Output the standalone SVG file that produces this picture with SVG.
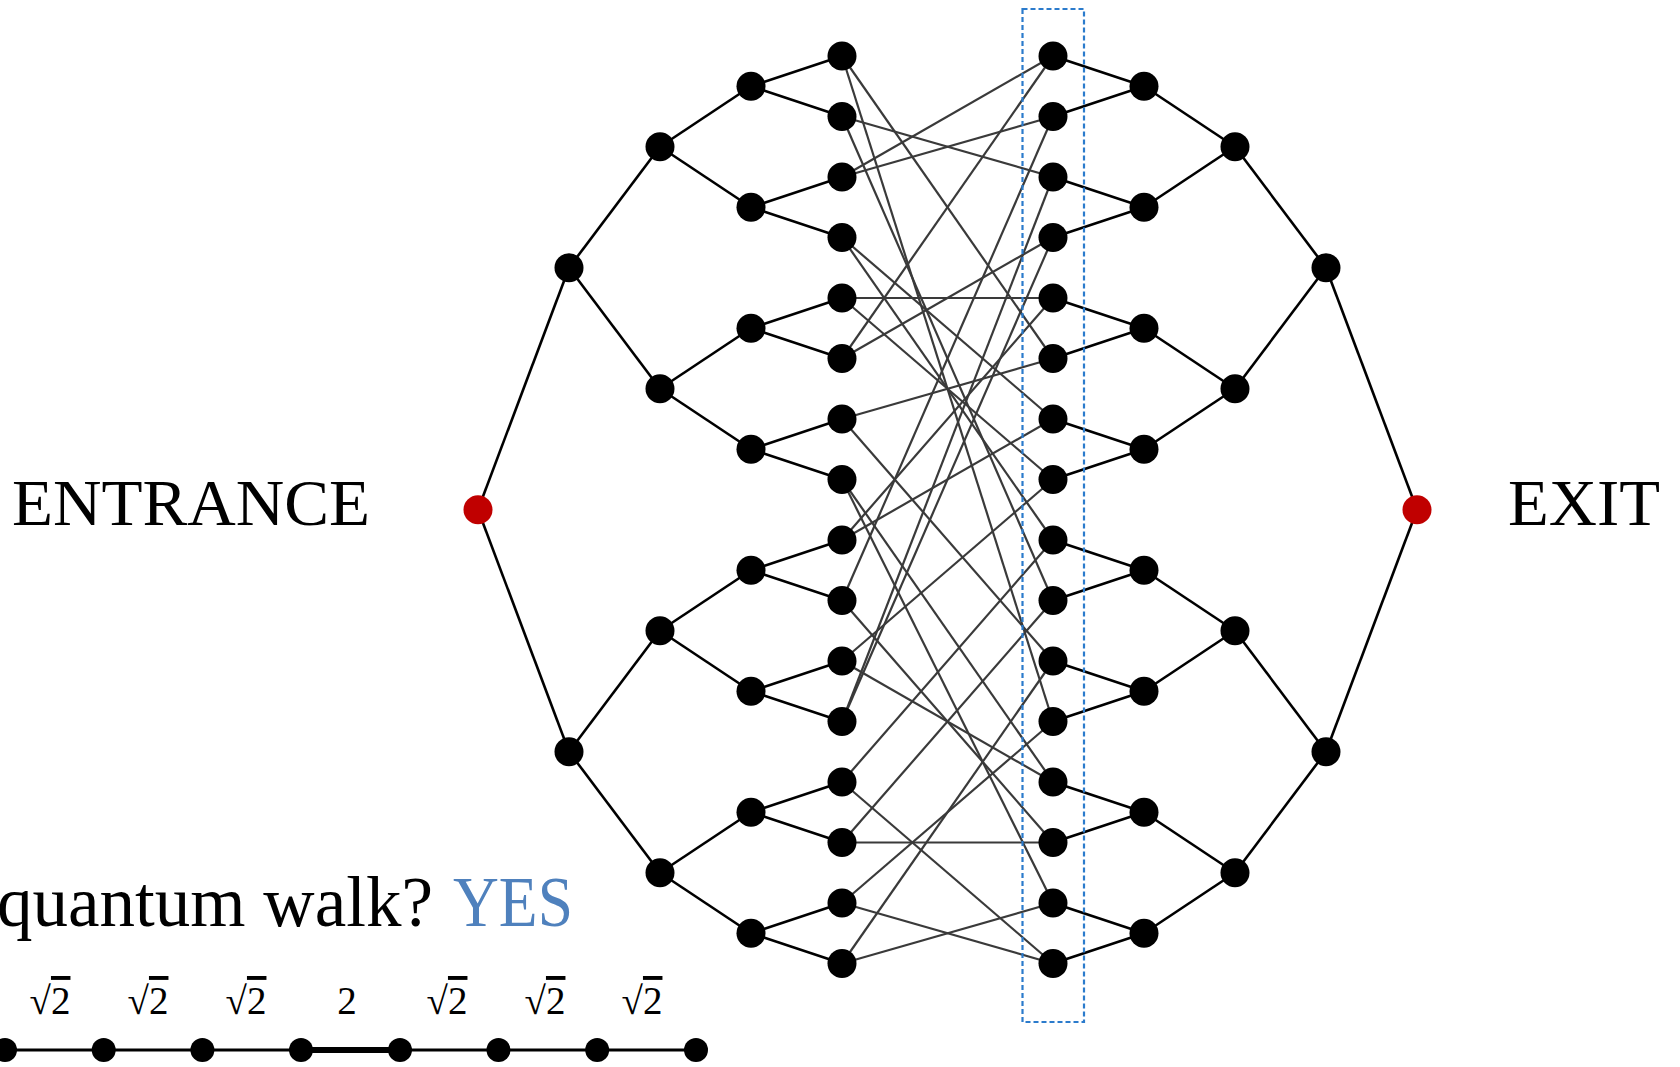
<svg xmlns="http://www.w3.org/2000/svg" width="1680" height="1067" viewBox="0 0 1680 1067">
<style>
.n{fill:#000}
.red{fill:#c00000}
.t{stroke:#000;stroke-width:2.6;fill:none}
.x{stroke:#3a3a3a;stroke-width:2.2;fill:none}
.ch{stroke:#000;stroke-width:3.2;fill:none}
.lbl{font-family:"Liberation Serif","DejaVu Serif",serif;fill:#000}
</style>
<rect width="1680" height="1067" fill="#fff"/>
<g id="connectors">
<g id="tree-left" class="t">
<line x1="478" y1="509.75" x2="569" y2="267.75"/><line x1="478" y1="509.75" x2="569" y2="751.75"/>
<line x1="569" y1="267.75" x2="660" y2="146.75"/><line x1="569" y1="267.75" x2="660" y2="388.75"/>
<line x1="569" y1="751.75" x2="660" y2="630.75"/><line x1="569" y1="751.75" x2="660" y2="872.75"/>
<line x1="660" y1="146.75" x2="751" y2="86.25"/><line x1="660" y1="146.75" x2="751" y2="207.25"/>
<line x1="660" y1="388.75" x2="751" y2="328.25"/><line x1="660" y1="388.75" x2="751" y2="449.25"/>
<line x1="660" y1="630.75" x2="751" y2="570.25"/><line x1="660" y1="630.75" x2="751" y2="691.25"/>
<line x1="660" y1="872.75" x2="751" y2="812.25"/><line x1="660" y1="872.75" x2="751" y2="933.25"/>
<line x1="751" y1="86.25" x2="842" y2="56"/><line x1="751" y1="86.25" x2="842" y2="116.5"/>
<line x1="751" y1="207.25" x2="842" y2="177"/><line x1="751" y1="207.25" x2="842" y2="237.5"/>
<line x1="751" y1="328.25" x2="842" y2="298"/><line x1="751" y1="328.25" x2="842" y2="358.5"/>
<line x1="751" y1="449.25" x2="842" y2="419"/><line x1="751" y1="449.25" x2="842" y2="479.5"/>
<line x1="751" y1="570.25" x2="842" y2="540"/><line x1="751" y1="570.25" x2="842" y2="600.5"/>
<line x1="751" y1="691.25" x2="842" y2="661"/><line x1="751" y1="691.25" x2="842" y2="721.5"/>
<line x1="751" y1="812.25" x2="842" y2="782"/><line x1="751" y1="812.25" x2="842" y2="842.5"/>
<line x1="751" y1="933.25" x2="842" y2="903"/><line x1="751" y1="933.25" x2="842" y2="963.5"/>
</g>
<g id="tree-right" class="t">
<line x1="1417" y1="509.75" x2="1326" y2="267.75"/><line x1="1417" y1="509.75" x2="1326" y2="751.75"/>
<line x1="1326" y1="267.75" x2="1235" y2="146.75"/><line x1="1326" y1="267.75" x2="1235" y2="388.75"/>
<line x1="1326" y1="751.75" x2="1235" y2="630.75"/><line x1="1326" y1="751.75" x2="1235" y2="872.75"/>
<line x1="1235" y1="146.75" x2="1144" y2="86.25"/><line x1="1235" y1="146.75" x2="1144" y2="207.25"/>
<line x1="1235" y1="388.75" x2="1144" y2="328.25"/><line x1="1235" y1="388.75" x2="1144" y2="449.25"/>
<line x1="1235" y1="630.75" x2="1144" y2="570.25"/><line x1="1235" y1="630.75" x2="1144" y2="691.25"/>
<line x1="1235" y1="872.75" x2="1144" y2="812.25"/><line x1="1235" y1="872.75" x2="1144" y2="933.25"/>
<line x1="1144" y1="86.25" x2="1053" y2="56"/><line x1="1144" y1="86.25" x2="1053" y2="116.5"/>
<line x1="1144" y1="207.25" x2="1053" y2="177"/><line x1="1144" y1="207.25" x2="1053" y2="237.5"/>
<line x1="1144" y1="328.25" x2="1053" y2="298"/><line x1="1144" y1="328.25" x2="1053" y2="358.5"/>
<line x1="1144" y1="449.25" x2="1053" y2="419"/><line x1="1144" y1="449.25" x2="1053" y2="479.5"/>
<line x1="1144" y1="570.25" x2="1053" y2="540"/><line x1="1144" y1="570.25" x2="1053" y2="600.5"/>
<line x1="1144" y1="691.25" x2="1053" y2="661"/><line x1="1144" y1="691.25" x2="1053" y2="721.5"/>
<line x1="1144" y1="812.25" x2="1053" y2="782"/><line x1="1144" y1="812.25" x2="1053" y2="842.5"/>
<line x1="1144" y1="933.25" x2="1053" y2="903"/><line x1="1144" y1="933.25" x2="1053" y2="963.5"/>
</g>
<g id="weld" class="x">
<line x1="842" y1="56" x2="1053" y2="358.5"/><line x1="842" y1="56" x2="1053" y2="721.5"/>
<line x1="842" y1="116.5" x2="1053" y2="177"/><line x1="842" y1="116.5" x2="1053" y2="600.5"/>
<line x1="842" y1="177" x2="1053" y2="56"/><line x1="842" y1="177" x2="1053" y2="116.5"/>
<line x1="842" y1="237.5" x2="1053" y2="419"/><line x1="842" y1="237.5" x2="1053" y2="540"/>
<line x1="842" y1="298" x2="1053" y2="298"/><line x1="842" y1="298" x2="1053" y2="479.5"/>
<line x1="842" y1="358.5" x2="1053" y2="56"/><line x1="842" y1="358.5" x2="1053" y2="237.5"/>
<line x1="842" y1="419" x2="1053" y2="358.5"/><line x1="842" y1="419" x2="1053" y2="661"/>
<line x1="842" y1="479.5" x2="1053" y2="782"/><line x1="842" y1="479.5" x2="1053" y2="903"/>
<line x1="842" y1="540" x2="1053" y2="298"/><line x1="842" y1="540" x2="1053" y2="419"/>
<line x1="842" y1="600.5" x2="1053" y2="116.5"/><line x1="842" y1="600.5" x2="1053" y2="842.5"/>
<line x1="842" y1="661" x2="1053" y2="479.5"/><line x1="842" y1="661" x2="1053" y2="782"/>
<line x1="842" y1="721.5" x2="1053" y2="177"/><line x1="842" y1="721.5" x2="1053" y2="237.5"/>
<line x1="842" y1="782" x2="1053" y2="540"/><line x1="842" y1="782" x2="1053" y2="963.5"/>
<line x1="842" y1="842.5" x2="1053" y2="600.5"/><line x1="842" y1="842.5" x2="1053" y2="842.5"/>
<line x1="842" y1="903" x2="1053" y2="721.5"/><line x1="842" y1="903" x2="1053" y2="963.5"/>
<line x1="842" y1="963.5" x2="1053" y2="661"/><line x1="842" y1="963.5" x2="1053" y2="903"/>
</g>
<g id="chain-edges" class="ch">
<line x1="5" y1="1050" x2="301" y2="1050"/>
<line x1="301" y1="1050" x2="400" y2="1050" stroke-width="6"/>
<line x1="400" y1="1050" x2="696" y2="1050"/>
</g>
</g>
<rect id="highlight-box" x="1022.5" y="9" width="61.5" height="1013" fill="none" stroke="#2b7bcc" stroke-width="2.2" stroke-dasharray="5,3"/>
<g id="nodes">
<g id="entrance-node"><circle class="red" cx="478" cy="509.75" r="14.5"/></g>
<g id="exit-node"><circle class="red" cx="1417" cy="509.75" r="14.5"/></g>
<g id="la0"><circle class="n" cx="569" cy="267.75" r="14.5"/></g>
<g id="la1"><circle class="n" cx="569" cy="751.75" r="14.5"/></g>
<g id="lb0"><circle class="n" cx="660" cy="146.75" r="14.5"/></g>
<g id="lb1"><circle class="n" cx="660" cy="388.75" r="14.5"/></g>
<g id="lb2"><circle class="n" cx="660" cy="630.75" r="14.5"/></g>
<g id="lb3"><circle class="n" cx="660" cy="872.75" r="14.5"/></g>
<g id="lc0"><circle class="n" cx="751" cy="86.25" r="14.5"/></g>
<g id="lc1"><circle class="n" cx="751" cy="207.25" r="14.5"/></g>
<g id="lc2"><circle class="n" cx="751" cy="328.25" r="14.5"/></g>
<g id="lc3"><circle class="n" cx="751" cy="449.25" r="14.5"/></g>
<g id="lc4"><circle class="n" cx="751" cy="570.25" r="14.5"/></g>
<g id="lc5"><circle class="n" cx="751" cy="691.25" r="14.5"/></g>
<g id="lc6"><circle class="n" cx="751" cy="812.25" r="14.5"/></g>
<g id="lc7"><circle class="n" cx="751" cy="933.25" r="14.5"/></g>
<g id="l0"><circle class="n" cx="842" cy="56" r="14.5"/></g>
<g id="l1"><circle class="n" cx="842" cy="116.5" r="14.5"/></g>
<g id="l2"><circle class="n" cx="842" cy="177" r="14.5"/></g>
<g id="l3"><circle class="n" cx="842" cy="237.5" r="14.5"/></g>
<g id="l4"><circle class="n" cx="842" cy="298" r="14.5"/></g>
<g id="l5"><circle class="n" cx="842" cy="358.5" r="14.5"/></g>
<g id="l6"><circle class="n" cx="842" cy="419" r="14.5"/></g>
<g id="l7"><circle class="n" cx="842" cy="479.5" r="14.5"/></g>
<g id="l8"><circle class="n" cx="842" cy="540" r="14.5"/></g>
<g id="l9"><circle class="n" cx="842" cy="600.5" r="14.5"/></g>
<g id="l10"><circle class="n" cx="842" cy="661" r="14.5"/></g>
<g id="l11"><circle class="n" cx="842" cy="721.5" r="14.5"/></g>
<g id="l12"><circle class="n" cx="842" cy="782" r="14.5"/></g>
<g id="l13"><circle class="n" cx="842" cy="842.5" r="14.5"/></g>
<g id="l14"><circle class="n" cx="842" cy="903" r="14.5"/></g>
<g id="l15"><circle class="n" cx="842" cy="963.5" r="14.5"/></g>
<g id="r0"><circle class="n" cx="1053" cy="56" r="14.5"/></g>
<g id="r1"><circle class="n" cx="1053" cy="116.5" r="14.5"/></g>
<g id="r2"><circle class="n" cx="1053" cy="177" r="14.5"/></g>
<g id="r3"><circle class="n" cx="1053" cy="237.5" r="14.5"/></g>
<g id="r4"><circle class="n" cx="1053" cy="298" r="14.5"/></g>
<g id="r5"><circle class="n" cx="1053" cy="358.5" r="14.5"/></g>
<g id="r6"><circle class="n" cx="1053" cy="419" r="14.5"/></g>
<g id="r7"><circle class="n" cx="1053" cy="479.5" r="14.5"/></g>
<g id="r8"><circle class="n" cx="1053" cy="540" r="14.5"/></g>
<g id="r9"><circle class="n" cx="1053" cy="600.5" r="14.5"/></g>
<g id="r10"><circle class="n" cx="1053" cy="661" r="14.5"/></g>
<g id="r11"><circle class="n" cx="1053" cy="721.5" r="14.5"/></g>
<g id="r12"><circle class="n" cx="1053" cy="782" r="14.5"/></g>
<g id="r13"><circle class="n" cx="1053" cy="842.5" r="14.5"/></g>
<g id="r14"><circle class="n" cx="1053" cy="903" r="14.5"/></g>
<g id="r15"><circle class="n" cx="1053" cy="963.5" r="14.5"/></g>
<g id="rc0"><circle class="n" cx="1144" cy="86.25" r="14.5"/></g>
<g id="rc1"><circle class="n" cx="1144" cy="207.25" r="14.5"/></g>
<g id="rc2"><circle class="n" cx="1144" cy="328.25" r="14.5"/></g>
<g id="rc3"><circle class="n" cx="1144" cy="449.25" r="14.5"/></g>
<g id="rc4"><circle class="n" cx="1144" cy="570.25" r="14.5"/></g>
<g id="rc5"><circle class="n" cx="1144" cy="691.25" r="14.5"/></g>
<g id="rc6"><circle class="n" cx="1144" cy="812.25" r="14.5"/></g>
<g id="rc7"><circle class="n" cx="1144" cy="933.25" r="14.5"/></g>
<g id="rb0"><circle class="n" cx="1235" cy="146.75" r="14.5"/></g>
<g id="rb1"><circle class="n" cx="1235" cy="388.75" r="14.5"/></g>
<g id="rb2"><circle class="n" cx="1235" cy="630.75" r="14.5"/></g>
<g id="rb3"><circle class="n" cx="1235" cy="872.75" r="14.5"/></g>
<g id="ra0"><circle class="n" cx="1326" cy="267.75" r="14.5"/></g>
<g id="ra1"><circle class="n" cx="1326" cy="751.75" r="14.5"/></g>
<g id="p0"><circle class="n" cx="5" cy="1050" r="12"/></g>
<g id="p1"><circle class="n" cx="103.7" cy="1050" r="12"/></g>
<g id="p2"><circle class="n" cx="202.4" cy="1050" r="12"/></g>
<g id="p3"><circle class="n" cx="301" cy="1050" r="12"/></g>
<g id="p4"><circle class="n" cx="400" cy="1050" r="12"/></g>
<g id="p5"><circle class="n" cx="498.5" cy="1050" r="12"/></g>
<g id="p6"><circle class="n" cx="597.2" cy="1050" r="12"/></g>
<g id="p7"><circle class="n" cx="696" cy="1050" r="12"/></g>
</g>
<g id="labels" class="lbl">
<text x="12" y="525" font-size="66" textLength="358" lengthAdjust="spacingAndGlyphs">ENTRANCE</text>
<text x="1508" y="525" font-size="66" textLength="152" lengthAdjust="spacingAndGlyphs">EXIT</text>
<text x="-3" y="926" font-size="72" textLength="436" lengthAdjust="spacingAndGlyphs">quantum walk?</text>
<text x="453" y="926" font-size="72" fill="#4f81bd" textLength="120" lengthAdjust="spacingAndGlyphs">YES</text>
<g font-size="39" text-anchor="middle">
<text x="50" y="1014">√<tspan text-decoration="overline">2</tspan></text>
<text x="148" y="1014">√<tspan text-decoration="overline">2</tspan></text>
<text x="246" y="1014">√<tspan text-decoration="overline">2</tspan></text>
<text x="347" y="1014">2</text>
<text x="447" y="1014">√<tspan text-decoration="overline">2</tspan></text>
<text x="545" y="1014">√<tspan text-decoration="overline">2</tspan></text>
<text x="642" y="1014">√<tspan text-decoration="overline">2</tspan></text>
</g>
</g>
</svg>
